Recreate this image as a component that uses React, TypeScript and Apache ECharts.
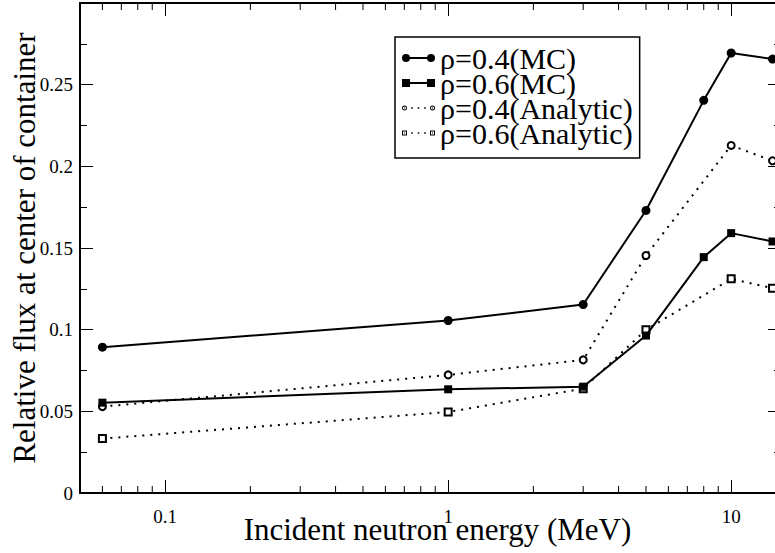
import React, { useEffect, useRef } from 'react';
import * as echarts from 'echarts';

// ---- data ----
const energyMC = [0.06, 1, 3, 5, 8, 10, 14];
const energyAnalytic = [0.06, 1, 3, 5, 10, 14];
const fluxMC04 = [0.0893, 0.1056, 0.1154, 0.173, 0.2404, 0.2694, 0.2657];
const fluxMC06 = [0.0553, 0.0635, 0.0651, 0.0964, 0.1444, 0.1591, 0.154];
const fluxAn04 = [0.0529, 0.0723, 0.0815, 0.1454, 0.2128, 0.2034];
const fluxAn06 = [0.0333, 0.0496, 0.0639, 0.0999, 0.1311, 0.1254];
const seriesNames = ['ρ=0.4(MC)', 'ρ=0.6(MC)', 'ρ=0.4(Analytic)', 'ρ=0.6(Analytic)'];
const xMinorTicks = [0.06, 0.07, 0.08, 0.09, 0.2, 0.3, 0.4, 0.5, 0.6, 0.7, 0.8, 0.9, 2, 3, 4, 5, 6, 7, 8, 9];
const xTitle = 'Incident neutron energy (MeV)';
const yTitle = 'Relative flux at center of container';

const FONT = 'Liberation Serif';

const ICON_MC_CIRCLE =
  'path://M0,4a4,4 0 1,0 8,0a4,4 0 1,0 -8,0zM25,4a4,4 0 1,0 8,0a4,4 0 1,0 -8,0zM8,3h17v2h-17z';
const ICON_MC_SQUARE = 'path://M0,0h8v8h-8zM25,0h8v8h-8zM8,3h17v2h-17z';
const dots = 'M9.2,2.2h1.6v1.6h-1.6zM15.7,2.2h1.6v1.6h-1.6zM22.2,2.2h1.6v1.6h-1.6z';
const ring = (cx: number) =>
  `M${cx - 2.5},3a2.5,2.5 0 1,1 5,0a2.5,2.5 0 1,1 -5,0z` +
  `M${cx - 1.6},3a1.6,1.6 0 1,0 3.2,0a1.6,1.6 0 1,0 -3.2,0z` +
  `M${cx - 0.5},2.5h1v1h-1z`;
const box = (x: number) =>
  `M${x},0.5h5v5h-5z` + `M${x + 1},1.5v3h3v-3z` + `M${x + 2},2.5h1v1h-1z`;
const ICON_AN_CIRCLE = 'path://' + ring(2.5) + dots + ring(30.5);
const ICON_AN_SQUARE = 'path://' + box(0) + dots + box(28);

const zip = (xs: number[], ys: number[]) => xs.map((x, i) => [x, ys[i]]);

export default function App() {
  const ref = useRef<HTMLDivElement>(null);

  useEffect(() => {
    if (!ref.current) return;
    const chart = echarts.init(ref.current, undefined, { renderer: 'svg' });

    const logFormatter = (v: number) => {
      const l = Math.log10(v);
      if (Math.abs(l - Math.round(l)) > 1e-6) return '';
      return String(parseFloat(v.toPrecision(3)));
    };

    const xCommon = {
      type: 'log',
      logBase: 10,
      min: 0.05,
      max: 15,
      axisLine: { show: true, onZero: false, lineStyle: { color: '#000', width: 2 } },
      axisTick: { show: true, inside: true, length: 13, lineStyle: { color: '#000', width: 1 } },
      splitLine: { show: false },
    };
    const yCommon = {
      type: 'value',
      min: 0,
      max: 0.3,
      interval: 0.05,
      axisLine: { show: true, onZero: false, lineStyle: { color: '#000', width: 2 } },
      axisTick: { show: true, inside: true, length: 13, lineStyle: { color: '#000', width: 1 } },
      minorTick: { show: true, splitNumber: 2, length: 7, lineStyle: { color: '#000', width: 1 } },
      splitLine: { show: false },
      minorSplitLine: { show: false },
    };

    const solid = { color: '#000', width: 2 };
    const dotted = { color: '#000', width: 2, type: [2, 6] };

    chart.setOption({
      animation: false,
      backgroundColor: '#fff',
      textStyle: { fontFamily: FONT, color: '#000' },
      grid: { left: 80, right: 9, top: 3, bottom: 60, containLabel: false, outerBoundsMode: 'none' },
      xAxis: [
        {
          ...xCommon,
          position: 'bottom',
          axisLabel: {
            show: true,
            formatter: logFormatter,
            fontFamily: FONT,
            fontSize: 19,
            lineHeight: 12,
            color: '#000',
            margin: 17,
            showMinLabel: false,
            showMaxLabel: false,
          },
          name: xTitle,
          nameLocation: 'middle',
          nameGap: 28,
          nameMoveOverlap: false,
          nameTextStyle: {
            fontFamily: FONT,
            fontSize: 31,
            lineHeight: 16,
            color: '#000',
            padding: [0, 0, 0, 14],
          },
        },
        { ...xCommon, position: 'top', axisLabel: { show: false } },
      ],
      yAxis: [
        {
          ...yCommon,
          position: 'left',
          axisLabel: {
            show: true,
            formatter: (v: number) => (v > 0.29 ? '' : String(parseFloat(v.toFixed(3)))),
            fontFamily: FONT,
            fontSize: 19,
            color: '#000',
            margin: 7,
          },
          name: yTitle,
          nameLocation: 'middle',
          nameGap: 46,
          nameRotate: 90,
          nameMoveOverlap: false,
          nameTextStyle: { fontFamily: FONT, fontSize: 31, lineHeight: 20, color: '#000' },
        },
        { ...yCommon, position: 'right', axisLabel: { show: false } },
      ],
      legend: {
        show: true,
        orient: 'vertical',
        left: 395,
        top: 37,
        padding: [6, 7, 10, 7],
        itemGap: -5,
        itemWidth: 33,
        itemHeight: 8,
        symbolKeepAspect: true,
        selectedMode: false,
        backgroundColor: '#fff',
        borderColor: '#000',
        borderWidth: 1.5,
        textStyle: { fontFamily: FONT, fontSize: 30, color: '#000' },
        data: [
          { name: seriesNames[0], icon: ICON_MC_CIRCLE, itemStyle: { color: '#000', borderWidth: 0 } },
          { name: seriesNames[1], icon: ICON_MC_SQUARE, itemStyle: { color: '#000', borderWidth: 0 } },
          { name: seriesNames[2], icon: ICON_AN_CIRCLE, itemStyle: { color: '#000', borderWidth: 0 } },
          { name: seriesNames[3], icon: ICON_AN_SQUARE, itemStyle: { color: '#000', borderWidth: 0 } },
        ],
      },
      series: [
        {
          name: seriesNames[2],
          type: 'line',
          data: zip(energyAnalytic, fluxAn04),
          symbol: 'emptyCircle',
          symbolSize: 7,
          lineStyle: dotted,
          itemStyle: { color: '#000', borderWidth: 1 },
          z: 2,
        },
        {
          name: seriesNames[3],
          type: 'line',
          data: zip(energyAnalytic, fluxAn06),
          symbol: 'emptyRect',
          symbolSize: 7,
          lineStyle: dotted,
          itemStyle: { color: '#000', borderWidth: 1 },
          z: 2,
        },
        {
          name: seriesNames[0],
          type: 'line',
          data: zip(energyMC, fluxMC04),
          symbol: 'circle',
          symbolSize: 9,
          lineStyle: solid,
          itemStyle: { color: '#000' },
          z: 3,
        },
        {
          name: seriesNames[1],
          type: 'line',
          data: zip(energyMC, fluxMC06),
          symbol: 'rect',
          symbolSize: 8,
          lineStyle: solid,
          itemStyle: { color: '#000' },
          z: 3,
        },
      ],
    });

    // minor ticks of the log x axes, positioned through the axis scale
    const yBottom = chart.convertToPixel({ yAxisIndex: 0 }, 0) as number;
    const yTop = chart.convertToPixel({ yAxisIndex: 0 }, 0.3) as number;
    const elements: any[] = [];
    xMinorTicks.forEach((v) => {
      const px = chart.convertToPixel({ xAxisIndex: 0 }, v) as number;
      elements.push({
        type: 'line',
        silent: true,
        shape: { x1: px, y1: yBottom, x2: px, y2: yBottom - 7 },
        style: { stroke: '#000', lineWidth: 1 },
      });
      elements.push({
        type: 'line',
        silent: true,
        shape: { x1: px, y1: yTop, x2: px, y2: yTop + 7 },
        style: { stroke: '#000', lineWidth: 1 },
      });
    });
    chart.setOption({ graphic: elements });

    return () => chart.dispose();
  }, []);

  return (
    <div
      style={{
        position: 'fixed',
        left: 0,
        top: 0,
        width: 775,
        height: 553,
        overflow: 'hidden',
        background: '#fff',
      }}
    >
      <div ref={ref} style={{ width: 790, height: 553 }} />
    </div>
  );
}
